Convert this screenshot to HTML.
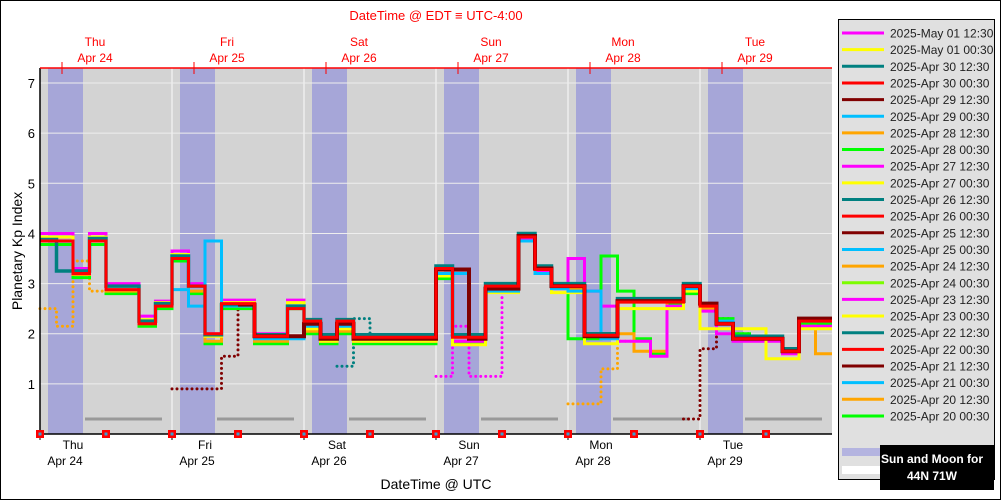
<!DOCTYPE html>
<html><head><meta charset="utf-8">
<style>
body{margin:0;background:#fff;}
svg{display:block;font-family:"Liberation Sans","DejaVu Sans",sans-serif;}
</style></head>
<body>
<svg id="chart" width="1001" height="500" viewBox="0 0 1001 500">
<rect x="0.5" y="0.5" width="1000" height="499" fill="#fff" stroke="#000"/>
<text x="436" y="20" fill="#ff0000" font-size="13" text-anchor="middle">DateTime @ EDT ≡ UTC-4:00</text>
<g id="plot"></g>
<text x="436" y="489" font-size="14" text-anchor="middle" fill="#000">DateTime @ UTC</text>
<text transform="translate(22,251) rotate(-90)" font-size="14" text-anchor="middle" fill="#000">Planetary Kp Index</text>
<g id="legend"></g>
</svg>
<script>
// ---- data ----
const dayNames = ["Thu","Fri","Sat","Sun","Mon","Tue"];
const dayDates = ["Apr 24","Apr 25","Apr 26","Apr 27","Apr 28","Apr 29"];
const yTicks = [0,1,2,3,4,5,6,7];
const legendLabels = ["2025-May 01 12:30","2025-May 01 00:30","2025-Apr 30 12:30","2025-Apr 30 00:30","2025-Apr 29 12:30","2025-Apr 29 00:30","2025-Apr 28 12:30","2025-Apr 28 00:30","2025-Apr 27 12:30","2025-Apr 27 00:30","2025-Apr 26 12:30","2025-Apr 26 00:30","2025-Apr 25 12:30","2025-Apr 25 00:30","2025-Apr 24 12:30","2025-Apr 24 00:30","2025-Apr 23 12:30","2025-Apr 23 00:30","2025-Apr 22 12:30","2025-Apr 22 00:30","2025-Apr 21 12:30","2025-Apr 21 00:30","2025-Apr 20 12:30","2025-Apr 20 00:30"];
const legendColors = ["#ff00ff","#ffff00","#008080","#ff0000","#800000","#00bfff","#ffa500","#00ff00","#ff00ff","#ffff00","#008080","#ff0000","#800000","#00bfff","#ffa500","#7cfc00","#ff00ff","#ffff00","#008080","#ff0000","#800000","#00bfff","#ffa500","#00ff00"];
// series values per 3-hour bin (bin 0 = Apr 24 00 UTC)
const greenStart = 0;
const greenVals = [3.78,3.78,3.12,3.78,2.8,2.8,2.15,2.5, 3.45,2.8,1.8,2.5,2.5,1.8,1.8,2.5, 2.0,1.8,2.0,1.8,1.8,1.8,1.8,1.8, 3.1,1.8,1.8,2.9,2.9,3.85,3.25,2.9, 1.9,1.9,3.55,2.85,1.9,1.6,2.6,2.8, 2.5,2.3,2.0,1.95,1.95,1.7,2.2,2.2];
const orangeStart = 0;
const orangeVals = [3.85,3.85,3.18,3.85,2.85,2.85,2.2,2.55, 3.5,2.85,1.85,2.55,2.55,1.85,1.85,2.55, 2.05,1.85,2.05,1.85,1.85,1.85,1.85,1.85, 3.15,1.85,1.85,2.9,2.9,3.9,3.25,2.9, 2.9,2.0,2.0,2.0,1.65,1.65,2.65,2.9, 2.5,2.2,1.9,1.9,1.9,1.6,2.15,1.6];
const magentaStart = 0;
const magentaVals = [4.0,4.0,3.3,4.0,3.0,3.0,2.35,2.65, 3.65,3.0,2.0,2.67,2.67,2.0,2.0,2.67, 2.15,1.85,2.15,1.85,1.85,1.85,1.85,1.85, 3.2,1.85,1.85,2.85,2.85,3.9,3.25,2.9, 3.5,2.85,2.55,1.85,1.85,1.55,2.55,2.9, 2.45,2.0,1.85,1.85,1.85,1.6,2.15,2.15];
const yellowStart = 0;
const yellowVals = [3.93,3.93,3.25,3.93,2.95,2.95,2.28,2.62, 3.58,2.95,1.95,2.62,2.62,1.95,1.95,2.62, 2.1,1.85,2.1,1.85,1.85,1.85,1.85,1.85, 3.15,1.78,1.78,2.82,2.82,3.85,3.2,2.82, 2.82,1.8,1.8,2.5,2.5,2.5,2.5,2.85, 2.1,2.1,2.1,2.1,1.5,1.5,2.1,2.1];
const blueStart = 8;
const blueVals = [2.88,2.55,3.85,2.55,2.55,1.9,1.9,1.9, 2.15,1.9,2.15,1.9,1.9,1.9,1.9,1.9, 3.2,3.2,1.9,2.85,2.85,3.85,3.2,2.9, 2.85,2.85,1.9,2.65,2.65,2.65,2.65,2.9, 2.6,2.25,1.95,1.95,1.95,1.7,2.25,2.25];
const tealStart = 0;
const tealVals = [3.88,3.25,3.25,3.9,2.95,2.95,2.25,2.6, 3.55,2.95,1.98,2.58,2.58,1.98,1.98,2.55, 2.28,1.98,2.28,1.98,1.98,1.98,1.98,1.98, 3.35,1.98,1.98,3.0,3.0,4.0,3.35,3.0, 3.0,2.0,2.0,2.7,2.7,2.7,2.7,3.0, 2.6,2.2,1.95,1.95,1.95,1.7,2.3,2.3];
const maroonStart = 12;
const maroonVals = [2.58,1.95,1.95,1.95, 2.2,1.9,2.2,1.9,1.9,1.9,1.9,1.9, 3.28,3.28,1.9,2.9,2.9,3.95,3.3,2.95, 2.95,1.95,1.95,2.65,2.65,2.65,2.65,2.95, 2.6,2.2,1.9,1.9,1.9,1.65,2.3,2.3];
const redStart = 0;
const redVals = [3.85,3.85,3.2,3.85,2.88,2.88,2.2,2.55, 3.5,2.95,2.0,2.6,2.6,1.95,1.95,2.5, 2.25,1.93,2.25,1.93,1.93,1.93,1.93,1.93, 3.3,1.93,1.93,2.95,2.95,3.93,3.28,2.95, 2.95,1.97,1.97,2.63,2.63,2.63,2.63,2.95, 2.55,2.2,1.9,1.9,1.9,1.65,2.25,2.25];
// dotted older forecasts
const dotOrange1Start = 0;
const dotOrange1Vals = [2.5,2.15,3.45,2.85,2.85];
const dotMaroon1Start = 8;
const dotMaroon1Vals = [0.9,0.9,0.9,1.55,2.55];
const dotTealStart = 18;
const dotTealVals = [1.35,2.3,1.98];
const dotMagentaStart = 24;
const dotMagentaVals = [1.15,2.15,1.15,1.15,2.85];
const dotOrange2Start = 32;
const dotOrange2Vals = [0.6,0.6,1.3,1.85];
const dotMaroon2Start = 39;
const dotMaroon2Vals = [0.3,1.7,2.3,2.0];
const moonDays = [0,1,2,3,4,5];

// ---- geometry ----
const X0=40, X1=832, Y0=434, PXDAY=132, PXUNIT=50.14, BIN=16.5;
const xBin = i => X0 + i*BIN;
const yVal = v => Y0 - v*PXUNIT;
const NS="http://www.w3.org/2000/svg";
function mk(tag, attrs, parent){const e=document.createElementNS(NS,tag);for(const k in attrs)e.setAttribute(k,attrs[k]);parent.appendChild(e);return e;}
const plot=document.getElementById('plot');
const svg=document.getElementById('chart');

let bg=mk('rect',{x:X0,y:68,width:X1-X0,height:Y0-68,fill:'#d3d3d3'},plot);


// night bands
dayNames.forEach((d,k)=>{
  const r=mk('rect',{x:X0+k*PXDAY+8,y:68,width:35,height:Y0-68,fill:'#a6a6d8'},plot);
  
  
});
// grid
yTicks.forEach(t=>{
  if(t===0)return;
  const l=mk('line',{x1:X0,x2:X1,y1:yVal(t),y2:yVal(t),stroke:'#eeeeee','stroke-width':1},plot);
  
  
  const tx=mk('text',{x:35,y:yVal(t)+5,'font-size':13,'text-anchor':'end',fill:'#000'},plot);
  tx.textContent=t;
  
  
});
dayNames.forEach((d,k)=>{
  if(k>0){
    const l=mk('line',{x1:X0+k*PXDAY,x2:X0+k*PXDAY,y1:68,y2:Y0,stroke:'#eeeeee','stroke-width':1.5},plot);
    
    
  }
});
// moon lines
moonDays.forEach(k=>{
  const x1=X0+k*PXDAY+45, x2=Math.min(X0+k*PXDAY+122,X1-2);
  const l=mk('line',{x1:x1,x2:x2,y1:yVal(0.3),y2:yVal(0.3),stroke:'#999','stroke-width':3},plot);
  
  
});
// series
function drawSeries(start, vals, color, width, dotted, name){
  let d='';
  vals.forEach((v,i)=>{
    const xa=xBin(start+i), xb=Math.min(xBin(start+i+1),X1), y=yVal(v);
    d += (i===0?'M':'L')+xa+','+y+' L'+xb+','+y+' ';
  });
  const p=mk('path',{d:d,fill:'none',stroke:color,'stroke-width':width,'stroke-linejoin':'miter'},plot);
  if(dotted){p.setAttribute('stroke-dasharray','0 5');p.setAttribute('stroke-linecap','round');}
  
  
}
drawSeries(dotOrange1Start,dotOrange1Vals,'#ffa500',3,true,'series-dotted-orange-1');
drawSeries(dotMaroon1Start,dotMaroon1Vals,'#800000',3,true,'series-dotted-maroon-1');
drawSeries(dotTealStart,dotTealVals,'#008080',3,true,'series-dotted-teal');
drawSeries(dotMagentaStart,dotMagentaVals,'#ff00ff',3,true,'series-dotted-magenta');
drawSeries(dotOrange2Start,dotOrange2Vals,'#ffa500',3,true,'series-dotted-orange-2');
drawSeries(dotMaroon2Start,dotMaroon2Vals,'#800000',3,true,'series-dotted-maroon-2');
drawSeries(greenStart,greenVals,'#00ff00',3,false,'series-green');
drawSeries(orangeStart,orangeVals,'#ffa500',3,false,'series-orange');
drawSeries(magentaStart,magentaVals,'#ff00ff',3,false,'series-magenta');
drawSeries(yellowStart,yellowVals,'#ffff00',3,false,'series-yellow');
drawSeries(blueStart,blueVals,'#00bfff',3,false,'series-blue');
drawSeries(tealStart,tealVals,'#008080',3.5,false,'series-teal');
drawSeries(maroonStart,maroonVals,'#800000',4,false,'series-maroon');
drawSeries(redStart,redVals,'#ff0000',3,false,'series-red');

// axes
let ax=mk('line',{x1:X0,x2:X0,y1:68,y2:Y0,stroke:'#000','stroke-width':1.5},plot);


ax=mk('line',{x1:X0,x2:X1,y1:Y0,y2:Y0,stroke:'#000','stroke-width':1.5},plot);


ax=mk('line',{x1:X0,x2:X1,y1:68,y2:68,stroke:'#ff0000','stroke-width':1.5},plot);


dayNames.forEach((d,k)=>{
  const xb=X0+k*PXDAY, xt=xb+22;
  let t=mk('line',{x1:xb,x2:xb,y1:Y0,y2:Y0+6,stroke:'#000'},plot);
  
  
  t=mk('line',{x1:xt,x2:xt,y1:62,y2:74,stroke:'#ff0000'},plot);
  
  
  let s=mk('text',{x:xb+33,y:449,'font-size':12,'text-anchor':'middle',fill:'#000'},plot);
  s.textContent=d;
  
  
  s=mk('text',{x:xb+25,y:465,'font-size':12,'text-anchor':'middle',fill:'#000'},plot);
  s.textContent=dayDates[k];
  
  
  s=mk('text',{x:xt+33,y:46,'font-size':12,'text-anchor':'middle',fill:'#ff0000'},plot);
  s.textContent=d;
  
  
  s=mk('text',{x:xt+33,y:62,'font-size':12,'text-anchor':'middle',fill:'#ff0000'},plot);
  s.textContent=dayDates[k];
  
  
  [0,66].forEach(off=>{
    const m=mk('rect',{x:xb+off-4,y:Y0-4,width:8,height:8,fill:'#ff0000'},plot);
    
    
    const c=mk('rect',{x:xb+off-1.5,y:Y0-1.5,width:3,height:3,fill:'#3aa0d0'},plot);
    
    
  });
});

// legend
const lg=document.getElementById('legend');
let box=mk('rect',{x:838.5,y:19.5,width:156,height:460,fill:'#e0e0e0',stroke:'#000'},lg);


legendLabels.forEach((lab,i)=>{
  const y=33+i*16.65;
  const l=mk('line',{x1:842,x2:884,y1:y,y2:y,stroke:legendColors[i],'stroke-width':3},lg);
  
  
  const t=mk('text',{x:890,y:y+4.5,'font-size':12,fill:'#222'},lg);
  t.textContent=lab;
  
  
});
let sw=mk('rect',{x:842,y:448,width:40,height:8,fill:'#b4b4e0'},lg);


sw=mk('rect',{x:842,y:466,width:40,height:8,fill:'#ffffff'},lg);


let bb=mk('rect',{x:880,y:445,width:114,height:45,fill:'#000'},lg);


let st=mk('text',{x:932,y:463,'font-size':12,'font-weight':'bold','text-anchor':'middle',fill:'#fff'},lg);
st.textContent='Sun and Moon for';


st=mk('text',{x:932,y:480,'font-size':12,'font-weight':'bold','text-anchor':'middle',fill:'#fff'},lg);
st.textContent='44N 71W';


</script>
</body></html>
